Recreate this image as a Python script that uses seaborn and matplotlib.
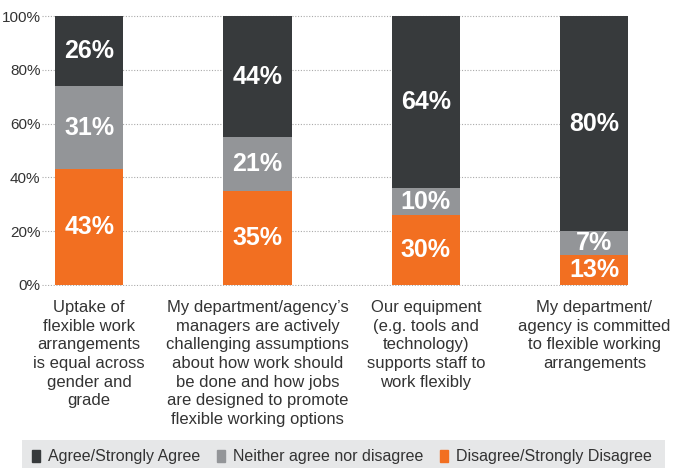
import matplotlib
matplotlib.use("Agg")
import matplotlib.pyplot as plt
import matplotlib.patches as mpatches
import seaborn as sns
import pandas as pd
import numpy as np

categories = [
    "Uptake of\nflexible work\narrangements\nis equal across\ngender and\ngrade",
    "My department/agency\u2019s\nmanagers are actively\nchallenging assumptions\nabout how work should\nbe done and how jobs\nare designed to promote\nflexible working options",
    "Our equipment\n(e.g. tools and\ntechnology)\nsupports staff to\nwork flexibly",
    "My department/\nagency is committed\nto flexible working\narrangements",
]
series_names = ["Agree/Strongly Agree", "Neither agree nor disagree", "Disagree/Strongly Disagree"]
# drawn segment heights
disagree = [43, 35, 26, 11]
neither = [31, 20, 10, 9]
agree = [26, 45, 64, 80]
# printed labels
disagree_lbl = [43, 35, 30, 13]
neither_lbl = [31, 21, 10, 7]
agree_lbl = [26, 44, 64, 80]
yticks = [0, 20, 40, 60, 80, 100]

c_agree = "#373a3c"
c_neither = "#939598"
c_dis = "#f26f21"

sns.set_style("white")
plt.rcParams["font.family"] = ["Liberation Sans", "DejaVu Sans"]

fig = plt.figure(figsize=(6.81, 4.68), dpi=100)
ax = fig.add_axes([42/681, 1-286/468, (628-42)/681, 271/468])

keys = ["c0", "c1", "c2", "c3"]
d = np.array(disagree, float)
n = np.array(neither, float)
a = np.array(agree, float)
df = pd.DataFrame({"cat": keys, "total": d + n + a, "mid": d + n, "low": d})

for col, colr in [("total", c_agree), ("mid", c_neither), ("low", c_dis)]:
    sns.barplot(data=df, x="cat", y=col, color=colr, width=0.405, ax=ax,
                saturation=1, edgecolor="none", linewidth=0, zorder=3)

for i in range(4):
    segs = [(0, d[i], disagree_lbl[i]), (d[i], n[i], neither_lbl[i]), (d[i] + n[i], a[i], agree_lbl[i])]
    for bottom, h, lbl in segs:
        ax.text(i, bottom + h / 2, f"{lbl}%", ha="center", va="center",
                color="white", fontsize=18, fontweight="bold", zorder=5)

ax.set_xlim(-0.28, 3.2)
ax.set_ylim(-0.4, 100.4)
ax.set_yticks(yticks)
ax.set_yticklabels([f"{t}%" for t in yticks], fontsize=11, color="#333333")
ax.set_xticks(range(4))
ax.set_xticklabels(categories, fontsize=12, color="#333333", linespacing=1.31, va="top")
ax.tick_params(axis="both", length=0)
ax.tick_params(axis="x", pad=10)
ax.tick_params(axis="y", pad=1)
ax.set_xlabel("")
ax.set_ylabel("")
for s in ax.spines.values():
    s.set_visible(False)
for t in yticks:
    ax.axhline(t, color="#aaaaaa", linestyle=(0, (1, 1.5)), linewidth=0.8, zorder=1)

# legend background
fig.patches.append(mpatches.Rectangle((22/681, 0), 643/681, 28/468, transform=fig.transFigure,
                                      facecolor="#e6e7e8", edgecolor="none", zorder=0))
handles = [mpatches.Patch(color=c) for c in (c_agree, c_neither, c_dis)]
fig.legend(handles, series_names, loc="center left", bbox_to_anchor=(18/681, 11/468),
           ncol=3, frameon=False, fontsize=11.5, handlelength=0.5, handleheight=0.7,
           handletextpad=0.5, columnspacing=1.05, labelcolor="#333333")

fig.savefig("out.png", dpi=100)
